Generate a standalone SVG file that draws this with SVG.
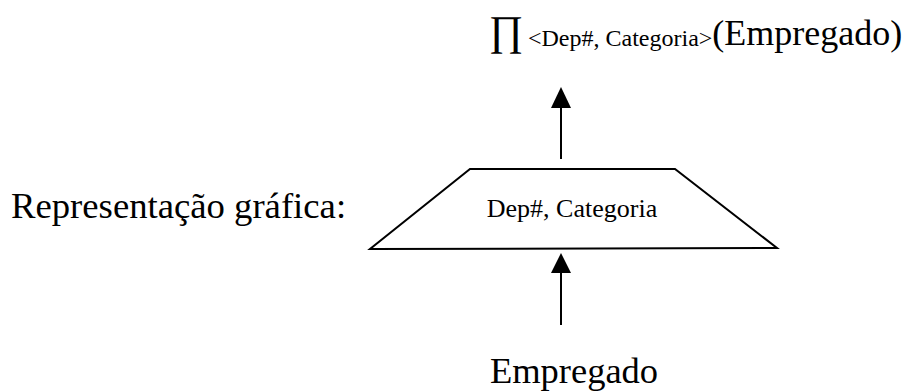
<svg xmlns="http://www.w3.org/2000/svg" width="912" height="392" viewBox="0 0 912 392">
<defs>
<style>
.t{font-family:"Liberation Serif",serif;fill:#000}
.ln{stroke:#000;stroke-width:2;fill:none}
.ah{fill:#000;stroke:none}
</style>
</defs>
<rect width="912" height="392" fill="#fff"/>
<g id="label-left"><text class="t" x="11" y="218" font-size="36.7">Representação gráfica:</text></g>
<g id="projection-result">
<text class="t" x="489" y="45" font-size="42">∏</text>
<text class="t" x="528" y="46" font-size="24">&lt;Dep#, Categoria&gt;<tspan font-size="36" dy="-1">(Empregado)</tspan></text>
</g>
<g id="projection-node">
<path class="ln" d="M470,169 L675,169 L777,248 L370,249 Z"/>
<text class="t" x="572" y="217" font-size="26" text-anchor="middle">Dep#, Categoria</text>
</g>
<g id="empregado"><text class="t" x="574" y="383" font-size="36.5" text-anchor="middle">Empregado</text></g>
<g id="connectors">
<line x1="561" y1="159" x2="561" y2="106" stroke="#000" stroke-width="2"/>
<polygon class="ah" points="561,87 571,108 551,108"/>
<line x1="561" y1="325" x2="561" y2="272" stroke="#000" stroke-width="2"/>
<polygon class="ah" points="561,253 571,273 551,273"/>
</g>
</svg>
